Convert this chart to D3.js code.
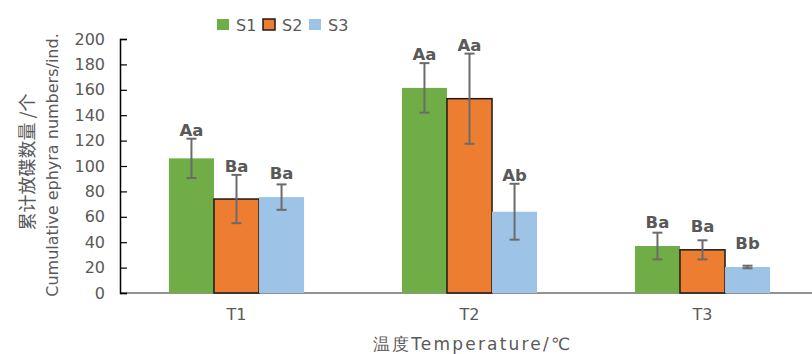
<!DOCTYPE html>
<html><head><meta charset="utf-8">
<script src="https://cdn.jsdelivr.net/npm/d3@7"></script>
<style>body{margin:0;background:#fff}svg{display:block}</style>
</head><body>
<svg id="c" width="812" height="354"></svg>
<script>
const categories = ["T1", "T2", "T3"];
const seriesNames = ["S1", "S2", "S3"];
const S1 = [106, 161.5, 37];
const S2 = [74, 153, 34];
const S3 = [75.5, 64, 20.5];
const S1err = [15.5, 19.5, 10.5];
const S2err = [19, 35.5, 7.5];
const S3err = [10, 22, 1];
const S1lab = ["Aa", "Aa", "Ba"];
const S2lab = ["Ba", "Aa", "Ba"];
const S3lab = ["Ba", "Ab", "Bb"];
const yTicks = [0, 20, 40, 60, 80, 100, 120, 140, 160, 180, 200];
const colors = ["#70AD47", "#ED7D31", "#9DC3E6"];

(function () {
const values = [S1, S2, S3], errs = [S1err, S2err, S3err], labs = [S1lab, S2lab, S3lab];
const svg = d3.select("#c");
const pl = 120, pr = 819, pt = 39, pb = 293;
const x = d3.scaleBand().domain(categories).range([pl, pr]).paddingInner(0.42).paddingOuter(0.21);
const xs = d3.scaleBand().domain(seriesNames).range([0, x.bandwidth()]);
const y = d3.scaleLinear().domain([0, 200]).range([pb, pt]);
const txt = "#595959";
const font = "'DejaVu Sans', Verdana, sans-serif";

// x axis line
svg.append("line").attr("x1", pl).attr("x2", 812).attr("y1", pb).attr("y2", pb)
  .attr("stroke", "#6e6e6e").attr("stroke-width", 1.5);

// bars
const data = [];
categories.forEach((c, i) => seriesNames.forEach((s, j) => data.push({c, s, j, v: values[j][i], e: errs[j][i], l: labs[j][i]})));
svg.append("g").selectAll("rect").data(data).join("rect")
  .attr("x", d => x(d.c) + xs(d.s))
  .attr("width", xs.bandwidth())
  .attr("y", d => y(d.v))
  .attr("height", d => y(0) - y(d.v))
  .attr("fill", d => colors[d.j])
  .attr("stroke", d => d.j === 1 ? "#1a1a1a" : "none")
  .attr("stroke-width", 1.5);

// error bars
const eg = svg.append("g").attr("stroke", "#6b6b6b").attr("stroke-width", 2);
data.forEach(d => {
  const cx = x(d.c) + xs(d.s) + xs.bandwidth() / 2;
  eg.append("line").attr("x1", cx).attr("x2", cx).attr("y1", y(d.v + d.e)).attr("y2", y(d.v - d.e));
  [d.v + d.e, d.v - d.e].forEach(v => eg.append("line").attr("x1", cx - 5).attr("x2", cx + 5).attr("y1", y(v)).attr("y2", y(v)));
});

// significance labels
svg.append("g").selectAll("text").data(data).join("text")
  .attr("x", d => x(d.c) + xs(d.s) + xs.bandwidth() / 2)
  .attr("y", d => y(Math.max(d.v + d.e, d.v + 12)) - 3)
  .attr("text-anchor", "middle").attr("font-family", font).attr("font-weight", "bold")
  .attr("font-size", 16.5).attr("fill", txt).text(d => d.l);

// y axis
const ya = svg.append("g").attr("transform", `translate(${pl},0)`)
  .call(d3.axisLeft(y).tickValues(yTicks).tickSizeInner(-7).tickSizeOuter(-7).tickPadding(15));
ya.select(".domain").attr("stroke", "#000").attr("stroke-width", 1.5);
ya.selectAll(".tick line").attr("stroke", "#000").attr("stroke-width", 1.2);
ya.selectAll(".tick text").attr("font-family", font).attr("font-size", 16).attr("fill", txt);

// x tick labels
svg.append("g").selectAll("text").data(categories).join("text")
  .attr("x", d => x(d) + x.bandwidth() / 2).attr("y", 320)
  .attr("text-anchor", "middle").attr("font-family", font).attr("font-size", 16).attr("fill", txt).text(d => d);

// x title
svg.append("text").attr("x", x("T2") + x.bandwidth() / 2 + 3).attr("y", 350)
  .attr("text-anchor", "middle").attr("font-family", font).attr("font-size", 17).attr("letter-spacing", 2.2).attr("fill", txt)
  .text("温度Temperature/℃");

// y titles
svg.append("text").attr("transform", "translate(34,162) rotate(-90)")
  .attr("text-anchor", "middle").attr("font-family", "'Noto Sans CJK SC', sans-serif").attr("font-size", 18).attr("fill", txt)
  .text("累计放碟数量 /个");
svg.append("text").attr("transform", "translate(58,165) rotate(-90)")
  .attr("text-anchor", "middle").attr("font-family", font).attr("font-size", 16).attr("fill", txt)
  .text("Cumulative  ephyra numbers/ind.");

// legend
const lg = svg.append("g").selectAll("g").data(seriesNames).join("g")
  .attr("transform", (d, i) => `translate(${217 + i * 46},0)`);
lg.append("rect").attr("x", 0).attr("y", 19).attr("width", 12).attr("height", 11)
  .attr("fill", (d, i) => colors[i]).attr("stroke", (d, i) => i === 1 ? "#1a1a1a" : "none").attr("stroke-width", 1.5);
lg.append("text").attr("x", 19).attr("y", 31).attr("font-family", font).attr("font-size", 16).attr("fill", txt).text(d => d);
})();
</script>
</body></html>
